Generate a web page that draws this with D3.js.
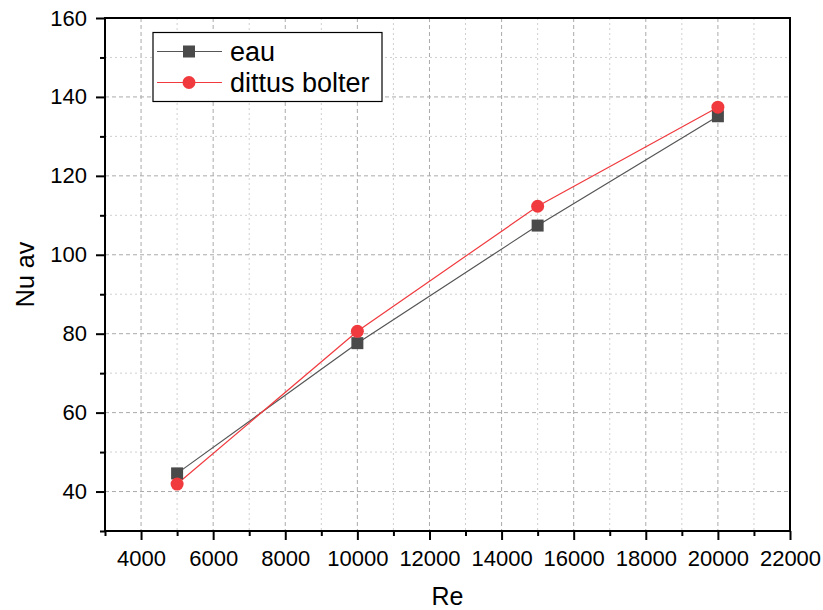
<!DOCTYPE html>
<html>
<head>
<meta charset="utf-8">
<script src="https://cdn.jsdelivr.net/npm/d3@7"></script>
<style>
  html, body { margin: 0; padding: 0; background: #fff; }
  svg { display: block; font-family: Arial, "Liberation Sans", sans-serif; }
</style>
</head>
<body>
<svg id="chart" width="823" height="610"></svg>
<script>
// Reynolds numbers and average Nusselt numbers
const reynolds = [5000, 10000, 15000, 20000];
const nuEau = [44.6, 77.6, 107.4, 135.1];
const nuDittus = [41.9, 80.6, 112.3, 137.4];
const seriesNames = ["eau", "dittus bolter"];
const xMajorTicks = [4000, 6000, 8000, 10000, 12000, 14000, 16000, 18000, 20000, 22000];
const xMinorTicks = [3000, 5000, 7000, 9000, 11000, 13000, 15000, 17000, 19000, 21000];
const yMajorTicks = [40, 60, 80, 100, 120, 140, 160];
const yMinorTicks = [30, 50, 70, 90, 110, 130, 150];

(function draw() {
  const svg = d3.select("#chart");
  const left = 105, right = 790, plotTop = 18, bottom = 531;

  const x = d3.scaleLinear().domain([3000, 22000]).range([left, right]);
  const y = d3.scaleLinear().domain([30, 160]).range([bottom, plotTop]);

  // grid: minor dotted, major dashed
  const grid = svg.append("g");
  grid.selectAll(".gxm").data(xMinorTicks.filter(v => v > 3000)).join("line")
    .attr("x1", d => x(d)).attr("x2", d => x(d)).attr("y1", plotTop).attr("y2", bottom)
    .attr("stroke", "#cfcfcf").attr("stroke-width", 1).attr("stroke-dasharray", "2,3");
  grid.selectAll(".gym").data(yMinorTicks.filter(v => v > 30)).join("line")
    .attr("x1", left).attr("x2", right).attr("y1", d => y(d)).attr("y2", d => y(d))
    .attr("stroke", "#cfcfcf").attr("stroke-width", 1).attr("stroke-dasharray", "2,3");
  grid.selectAll(".gxM").data(xMajorTicks.filter(v => v < 22000)).join("line")
    .attr("x1", d => x(d)).attr("x2", d => x(d)).attr("y1", plotTop).attr("y2", bottom)
    .attr("stroke", "#aaaaaa").attr("stroke-width", 1).attr("stroke-dasharray", "4,3");
  grid.selectAll(".gyM").data(yMajorTicks.filter(v => v < 160)).join("line")
    .attr("x1", left).attr("x2", right).attr("y1", d => y(d)).attr("y2", d => y(d))
    .attr("stroke", "#aaaaaa").attr("stroke-width", 1).attr("stroke-dasharray", "4,3");

  // axes
  const xAxis = svg.append("g").attr("transform", `translate(0,${bottom})`)
    .call(d3.axisBottom(x).tickValues(xMajorTicks).tickSize(9).tickPadding(10).tickFormat(d3.format("d")));
  const xAxisMinor = svg.append("g").attr("transform", `translate(0,${bottom})`)
    .call(d3.axisBottom(x).tickValues(xMinorTicks).tickSize(5).tickFormat(""));
  const yAxis = svg.append("g").attr("transform", `translate(${left},0)`)
    .call(d3.axisLeft(y).tickValues(yMajorTicks).tickSize(9).tickPadding(9).tickFormat(d3.format("d")));
  const yAxisMinor = svg.append("g").attr("transform", `translate(${left},0)`)
    .call(d3.axisLeft(y).tickValues(yMinorTicks).tickSize(5).tickFormat(""));

  [xAxis, xAxisMinor, yAxis, yAxisMinor].forEach(g => {
    g.select(".domain").remove();
    g.selectAll(".tick line").attr("stroke", "#000").attr("stroke-width", 2);
    g.selectAll(".tick text").attr("fill", "#000").attr("font-size", 22)
      .attr("font-family", "Arial, 'Liberation Sans', sans-serif");
  });

  // frame
  svg.append("rect").attr("x", left).attr("y", plotTop)
    .attr("width", right - left).attr("height", bottom - plotTop)
    .attr("fill", "none").attr("stroke", "#000").attr("stroke-width", 2);

  // series
  const eauPts = reynolds.map((r, i) => [r, nuEau[i]]);
  const dittusPts = reynolds.map((r, i) => [r, nuDittus[i]]);
  const line = d3.line().x(d => x(d[0])).y(d => y(d[1]));

  const eauColor = "#4a4a4a", dittusColor = "#f03a3e";

  svg.append("path").datum(eauPts).attr("d", line)
    .attr("fill", "none").attr("stroke", "#555").attr("stroke-width", 1.2);
  svg.append("path").datum(dittusPts).attr("d", line)
    .attr("fill", "none").attr("stroke", dittusColor).attr("stroke-width", 1.2);

  const sq = 12;
  svg.selectAll(".eau").data(eauPts).join("rect")
    .attr("x", d => x(d[0]) - sq / 2).attr("y", d => y(d[1]) - sq / 2)
    .attr("width", sq).attr("height", sq).attr("fill", eauColor);
  svg.selectAll(".dittus").data(dittusPts).join("circle")
    .attr("cx", d => x(d[0])).attr("cy", d => y(d[1])).attr("r", 6.5)
    .attr("fill", dittusColor);

  // legend
  const lg = svg.append("g");
  lg.append("rect").attr("x", 153).attr("y", 32.5).attr("width", 229).attr("height", 69)
    .attr("fill", "#fff").attr("stroke", "#000").attr("stroke-width", 1.2);
  const rows = [51.5, 82.5];
  lg.append("line").attr("x1", 157).attr("x2", 222).attr("y1", rows[0]).attr("y2", rows[0])
    .attr("stroke", "#555").attr("stroke-width", 1.2);
  lg.append("rect").attr("x", 189 - sq / 2).attr("y", rows[0] - sq / 2)
    .attr("width", sq).attr("height", sq).attr("fill", eauColor);
  lg.append("line").attr("x1", 157).attr("x2", 222).attr("y1", rows[1]).attr("y2", rows[1])
    .attr("stroke", dittusColor).attr("stroke-width", 1.2);
  lg.append("circle").attr("cx", 189).attr("cy", rows[1]).attr("r", 6.5).attr("fill", dittusColor);
  seriesNames.forEach((name, i) => {
    lg.append("text").attr("x", 230).attr("y", rows[i] + 9)
      .attr("font-size", 27).attr("fill", "#000").text(name);
  });

  // axis titles
  svg.append("text").attr("x", (left + right) / 2).attr("y", 605)
    .attr("text-anchor", "middle").attr("font-size", 25).attr("fill", "#000").text("Re");
  svg.append("text")
    .attr("transform", `translate(34,${(plotTop + bottom) / 2}) rotate(-90)`)
    .attr("text-anchor", "middle").attr("font-size", 25).attr("fill", "#000").text("Nu av");
})();
</script>
</body>
</html>
